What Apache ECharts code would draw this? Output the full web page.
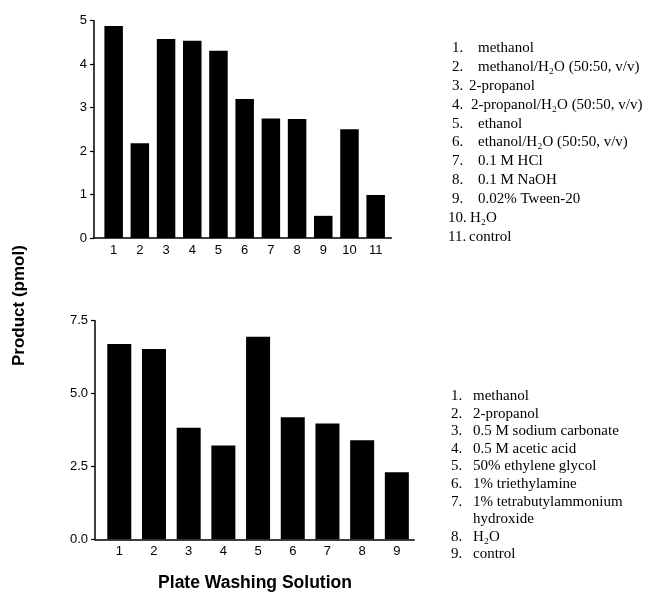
<!DOCTYPE html>
<html><head><meta charset="utf-8">
<script src="https://cdn.jsdelivr.net/npm/echarts@6/dist/echarts.min.js"></script>
<style>html,body{margin:0;padding:0;background:#fff}#c{width:658px;height:599px}</style>
</head><body><div id="c"></div>
<script>
const topCats = [1,2,3,4,5,6,7,8,9,10,11];
const topValues = [4.88, 2.18, 4.58, 4.54, 4.31, 3.20, 2.75, 2.74, 0.51, 2.50, 0.99];
const topLegendNums = ['1.','2.','3.','4.','5.','6.','7.','8.','9.','10.','11.'];
const topLegendText = ['methanol','methanol/H₂O (50:50, v/v)','2-propanol','2-propanol/H₂O (50:50, v/v)','ethanol','ethanol/H₂O (50:50, v/v)','0.1 M HCl','0.1 M NaOH','0.02% Tween-20','H₂O','control'];
const botCats = [1,2,3,4,5,6,7,8,9];
const botValues = [6.70, 6.53, 3.83, 3.22, 6.95, 4.19, 3.97, 3.40, 2.30];
const botLegendNums = ['1.','2.','3.','4.','5.','6.','7.','','8.','9.'];
const botLegendText = ['methanol','2-propanol','0.5 M sodium carbonate','0.5 M acetic acid','50% ethylene glycol','1% triethylamine','1% tetrabutylammonium','hydroxide','H₂O','control'];
const topYTicks = [0,1,2,3,4,5];
const botYTicks = [0,2.5,5,7.5];
const yTitle = 'Product (pmol)';
const xTitle = 'Plate Washing Solution';

// layout only
const topIndent = [0,0,-9,-7,0,0,0,0,0,-8,-9];

const chart = echarts.init(document.getElementById('c'));
const tickFont = {fontFamily:'Liberation Sans, Arial', fontSize:13, color:'#000'};
function xAx(idx, cats, min, max){
  return {gridIndex: idx, type:'value', min:min, max:max,
    axisLine:{show:true, lineStyle:{color:'#000', width:1.5}},
    axisTick:{show:false},
    splitLine:{show:false},
    axisLabel:Object.assign({customValues: cats, margin:6}, tickFont)};
}
function yAx(idx, ticks, interval, fmt){
  return {gridIndex: idx, type:'value', min:ticks[0], max:ticks[ticks.length-1], interval:interval,
    axisLine:{show:true, lineStyle:{color:'#000', width:1.5}},
    axisTick:{show:true, length:4, lineStyle:{color:'#000', width:1.2}},
    splitLine:{show:false},
    axisLabel:Object.assign({margin:7, formatter:fmt}, tickFont)};
}
const graphics = [];
const serifFam = 'Liberation Serif, Times New Roman';
topLegendNums.forEach((n,i)=>{
  graphics.push({type:'text', x: n.length>2?448:452, y:48+i*18.9,
    style:{text:n, fontFamily:serifFam, fontSize:15, fill:'#000', verticalAlign:'middle'}});
  graphics.push({type:'text', x: 478+topIndent[i], y:48+i*18.9,
    style:{text:topLegendText[i], fontFamily:serifFam, fontSize:15, fill:'#000', verticalAlign:'middle'}});
});
botLegendText.forEach((t,i)=>{
  graphics.push({type:'text', x:451, y:396+i*17.6,
    style:{text:botLegendNums[i], fontFamily:serifFam, fontSize:15, fill:'#000', verticalAlign:'middle'}});
  graphics.push({type:'text', x:473, y:396+i*17.6,
    style:{text:t, fontFamily:serifFam, fontSize:15, fill:'#000', verticalAlign:'middle'}});
});
graphics.push({type:'text', x:11, y:366, rotation:Math.PI/2,
  style:{text:yTitle, fontFamily:'Liberation Sans, Arial', fontSize:17, fontWeight:'bold', fill:'#000'}});
graphics.push({type:'text', x:255, y:583,
  style:{text:xTitle, fontFamily:'Liberation Sans, Arial', fontSize:17.5, fontWeight:'bold', fill:'#000', align:'center', verticalAlign:'middle'}});

chart.setOption({
  animation:false,
  backgroundColor:'#fff',
  grid:[{left:94, top:20.7, width:297.4, height:217.3},
        {left:95, top:320.7, width:319.2, height:218.6}],
  xAxis:[xAx(0, topCats, 0.25, 11.6), xAx(1, botCats, 0.3, 9.5)],
  yAxis:[yAx(0, topYTicks, 1, v=>String(v)), yAx(1, botYTicks, 2.5, v=>v.toFixed(1))],
  series:[
    {type:'bar', xAxisIndex:0, yAxisIndex:0, barWidth:18.5, itemStyle:{color:'#000'},
     data: topCats.map((c,i)=>[c, topValues[i]])},
    {type:'bar', xAxisIndex:1, yAxisIndex:1, barWidth:24, itemStyle:{color:'#000'},
     data: botCats.map((c,i)=>[c, botValues[i]])}
  ],
  graphic: graphics
});
</script></body></html>
